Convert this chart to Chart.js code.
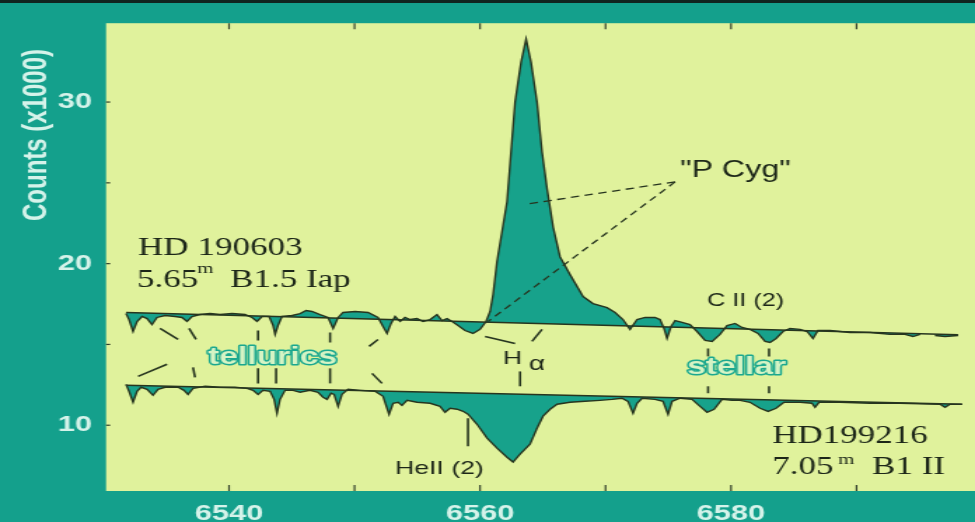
<!DOCTYPE html>
<html><head><meta charset="utf-8">
<script src="https://cdn.jsdelivr.net/npm/chart.js@4.4.1/dist/chart.umd.min.js"></script>
<style>
html,body{margin:0;padding:0;background:#14a08c;overflow:hidden;}
#c{display:block;width:975px !important;height:522px !important;}
</style></head><body>
<canvas id="c" width="696" height="522" style="width:975px;height:522px;"></canvas>
<script>
// ---- data (wavelength in Angstrom, counts in thousands) ----
const wavelength1 = [6531.79,6532.03,6532.35,6532.67,6533.07,6533.47,6533.86,6534.26,6534.90,6535.70,
 6536.25,6536.65,6537.05,6537.69,6538.49,6539.28,6540.24,6541.27,6541.83,6542.23,
 6542.63,6543.19,6543.51,6543.67,6543.90,6544.22,6545.02,6545.66,6546.14,6546.61,
 6547.25,6547.89,6548.29,6548.69,6549.08,6550.04,6551.08,6551.87,6552.27,6552.59,
 6552.91,6553.23,6553.63,6554.02,6554.42,6554.98,6555.46,6556.02,6556.57,6556.97,
 6557.37,6557.77,6558.25,6558.80,6559.44,6560.00,6560.48,6560.80,6561.04,6561.35,
 6562.15,6562.79,6563.27,6563.67,6564.06,6564.54,6564.94,6565.34,6565.82,6566.37,
 6567.17,6568.21,6569.00,6570.12,6570.76,6571.39,6571.95,6572.51,6573.15,6573.94,
 6574.34,6574.66,6574.90,6575.22,6575.54,6576.10,6576.73,6577.29,6577.93,6578.49,
 6579.12,6579.68,6580.32,6580.88,6581.51,6582.15,6582.71,6583.11,6583.59,6584.14,
 6584.70,6585.50,6586.06,6586.53,6586.93,6587.89,6589.48,6591.08,6592.67,6593.86,
 6594.50,6595.06,6595.60,6596.25,6597.05,6598.09];
const counts1 = [16.91,16.54,15.80,16.42,16.73,16.60,16.23,16.67,16.79,16.73,
 16.67,16.42,16.73,16.85,16.91,16.85,16.91,16.85,16.67,16.42,
 16.73,16.73,16.17,15.62,16.17,16.73,16.79,16.91,17.10,17.04,
 16.85,16.67,15.99,16.67,16.98,17.04,16.98,16.67,16.11,15.68,
 16.30,16.73,16.42,16.67,16.54,16.60,16.42,16.54,16.85,16.48,
 16.60,16.42,16.17,15.86,15.68,15.93,16.42,17.04,18.09,20.12,
 23.83,30.00,32.47,33.89,32.47,30.00,26.91,24.63,22.28,20.43,
 19.32,17.96,17.53,17.28,16.98,16.54,15.93,16.54,16.67,16.67,
 16.54,15.99,15.37,16.11,16.48,16.36,16.23,15.80,15.25,15.19,
 15.62,16.17,16.30,16.05,15.93,15.68,15.19,15.12,15.37,15.80,
 15.99,15.93,15.80,15.37,15.86,15.86,15.74,15.74,15.62,15.62,
 15.49,15.62,null,15.55,15.49,15.55];
const continuumWl1 = [6531.79, 6598.09];
const continuum1 = [16.98, 15.60];

const wavelength2 = [6531.79,6532.03,6532.35,6532.67,6532.99,6533.47,6533.94,6534.34,6534.90,6535.94,
 6536.41,6536.73,6537.13,6538.09,6539.28,6540.48,6541.43,6541.91,6542.31,6542.71,
 6543.27,6543.59,6543.82,6544.06,6544.46,6545.10,6545.66,6546.45,6547.09,6547.49,
 6547.81,6548.13,6548.37,6548.69,6549.00,6549.48,6550.44,6551.63,6552.27,6552.75,
 6553.07,6553.47,6553.78,6554.18,6554.98,6556.02,6556.81,6557.21,6557.61,6558.17,
 6558.65,6559.04,6559.76,6560.56,6561.35,6562.15,6562.63,6563.19,6563.98,6564.54,
 6565.02,6565.58,6566.14,6567.17,6568.37,6569.56,6570.52,6571.31,6571.79,6572.19,
 6572.51,6572.91,6573.94,6574.58,6574.98,6575.30,6575.94,6576.89,6577.53,6578.09,
 6578.65,6579.28,6580.08,6580.72,6581.51,6582.31,6582.95,6583.59,6584.22,6585.50,
 6586.45,6586.69,6587.01,6588.69,6591.08,6593.47,6596.65,6597.05,6597.45,6598.41];
const counts2 = [12.53,12.10,11.42,12.10,12.35,12.22,11.85,12.22,12.35,12.35,
 12.16,11.91,12.28,12.41,12.35,12.35,12.28,12.16,11.91,12.16,
 12.10,11.60,10.74,11.60,12.16,12.16,12.04,12.16,12.04,11.73,
 11.60,11.98,11.91,11.17,11.91,12.22,12.16,12.10,11.79,10.68,
 11.36,11.42,11.23,11.54,11.42,11.36,11.17,10.80,11.05,10.99,
 10.86,10.68,10.06,9.20,8.58,8.02,7.72,8.21,8.83,9.81,
 10.56,10.99,11.30,11.42,11.48,11.54,11.60,11.67,11.48,10.74,
 11.36,11.67,11.60,11.48,10.68,11.48,11.67,11.60,11.17,10.80,
 10.99,11.60,11.54,11.54,11.42,11.05,10.86,11.05,11.42,11.42,
 11.36,11.11,11.42,11.42,11.36,11.36,11.30,11.11,11.30,11.30];
const continuumWl2 = [6531.79, 6598.41];
const continuum2 = [12.47, 11.30];

const xTicks = [6540, 6550, 6560, 6570, 6580, 6590];
const xTickLabels = ['6540', '', '6560', '', '6580', ''];
const yTicks = [10, 15, 20, 25, 30];
const yTickLabels = ['10', '', '20', '', '30'];

// ---- annotations (data coordinates) ----
const SERIF = '"Liberation Serif", "Times New Roman", serif';
const SANS = '"Liberation Sans", Arial, sans-serif';
const noteTexts = [
  {t: 'HD 190603', x: 6532.75, y: 20.56, font: '25px ' + SERIF},
  {t: '5.65', x: 6532.67, y: 18.58, font: '25px ' + SERIF},
  {t: 'm', x: 6537.45, y: 19.44, font: '15px ' + SERIF},
  {t: 'B1.5 Iap', x: 6540.08, y: 18.58, font: '25px ' + SERIF},
  {t: 'HD199216', x: 6583.27, y: 8.89, font: '25px ' + SERIF},
  {t: '7.05', x: 6583.27, y: 6.98, font: '25px ' + SERIF},
  {t: 'm', x: 6588.53, y: 7.59, font: '15px ' + SERIF},
  {t: 'B1 II', x: 6591.24, y: 6.98, font: '25px ' + SERIF},
  {t: 'HeII (2)', x: 6553.23, y: 6.98, font: '19px ' + SANS},
  {t: 'C II (2)', x: 6578.09, y: 17.35, font: '18px ' + SANS},
  {t: 'H', x: 6561.83, y: 13.77, font: '19px ' + SANS},
  {t: '\u03b1', x: 6563.90, y: 13.40, font: '20px ' + SANS},
  {t: '"P Cyg"', x: 6575.94, y: 25.37, font: '23px ' + SANS},
  {t: 'tellurics', x: 6538.33, y: 13.77, font: 'bold 24px ' + SANS, outline: true},
  {t: 'stellar', x: 6576.49, y: 13.15, font: 'bold 24px ' + SANS, outline: true}
];
const noteSegments = [
  [6534.50, 15.99, 6535.94, 15.31], [6536.81, 15.99, 6537.37, 15.31],
  [6532.75, 13.02, 6535.06, 13.77], [6537.13, 13.58, 6537.29, 12.96],
  [6542.31, 15.86, 6542.31, 15.25], [6542.31, 13.52, 6542.31, 12.59],
  [6543.75, 13.52, 6543.75, 12.59],
  [6548.05, 15.74, 6548.05, 15.12], [6548.05, 13.52, 6548.05, 12.59],
  [6551.16, 14.88, 6551.87, 15.31], [6551.39, 13.21, 6552.19, 12.59],
  [6560.40, 15.49, 6562.79, 15.06], [6564.14, 15.19, 6564.94, 15.93],
  [6563.19, 13.33, 6563.19, 12.41],
  [6559.04, 10.43, 6559.04, 8.70],
  [6578.17, 14.75, 6578.17, 14.26], [6578.17, 12.41, 6578.17, 11.98],
  [6583.03, 14.75, 6583.03, 14.26], [6583.03, 12.41, 6583.03, 11.98]
];
const noteDashed = [
  [6575.54, 25.06, 6563.82, 23.70],
  [6575.54, 25.06, 6560.64, 16.42]
];

const pts = (wl, v) => wl.map((w, i) => ({x: w, y: v[i]}));
const LINE = '#27351f';
const FILL = '#17a28b';

const framePlugin = {
  id: 'frame',
  beforeDraw(chart) {
    const {ctx, chartArea: a, width, height} = chart;
    ctx.save();
    ctx.fillStyle = '#14a08c';
    ctx.fillRect(0, 0, width, height);
    ctx.fillStyle = '#10251f';
    ctx.fillRect(0, 0, width, 3);
    ctx.fillStyle = '#e0f29c';
    ctx.fillRect(a.left, a.top, a.right - a.left, a.bottom - a.top);
    // y axis title
    ctx.translate(26.5, 135);
    ctx.rotate(-Math.PI / 2);
    ctx.fillStyle = '#d5f3ea';
    ctx.font = 'bold 24px ' + SANS;
    ctx.textAlign = 'center';
    ctx.textBaseline = 'middle';
    ctx.fillText('Counts (x1000)', 0, 0);
    ctx.restore();
  },
  afterDatasetsDraw(chart) {
    const {ctx, chartArea: a, scales: {x, y}} = chart;
    ctx.save();
    // inward tick marks
    ctx.strokeStyle = '#33402c';
    ctx.lineWidth = 1.2;
    x.ticks.forEach(t => {
      const px = x.getPixelForValue(t.value);
      ctx.beginPath();
      ctx.moveTo(px, a.bottom); ctx.lineTo(px, a.bottom - 6);
      ctx.moveTo(px, a.top); ctx.lineTo(px, a.top + 6);
      ctx.stroke();
    });
    y.ticks.forEach(t => {
      const py = y.getPixelForValue(t.value);
      ctx.beginPath();
      ctx.moveTo(a.left, py); ctx.lineTo(a.left + 3, py);
      ctx.stroke();
    });
    // annotation segments
    ctx.strokeStyle = LINE;
    ctx.lineWidth = 1.6;
    noteSegments.forEach(s => {
      ctx.beginPath();
      ctx.moveTo(x.getPixelForValue(s[0]), y.getPixelForValue(s[1]));
      ctx.lineTo(x.getPixelForValue(s[2]), y.getPixelForValue(s[3]));
      ctx.stroke();
    });
    ctx.setLineDash([6, 4]);
    ctx.lineWidth = 1.3;
    noteDashed.forEach(s => {
      ctx.beginPath();
      ctx.moveTo(x.getPixelForValue(s[0]), y.getPixelForValue(s[1]));
      ctx.lineTo(x.getPixelForValue(s[2]), y.getPixelForValue(s[3]));
      ctx.stroke();
    });
    ctx.setLineDash([]);
    // texts
    ctx.textAlign = 'left';
    ctx.textBaseline = 'alphabetic';
    noteTexts.forEach(n => {
      const px = x.getPixelForValue(n.x), py = y.getPixelForValue(n.y);
      ctx.font = n.font;
      if (n.outline) {
        ctx.lineJoin = 'round';
        ctx.strokeStyle = '#1ba88f';
        ctx.lineWidth = 3;
        ctx.strokeText(n.t, px, py);
        ctx.fillStyle = '#d6f4c4';
        ctx.fillText(n.t, px, py);
      } else {
        ctx.fillStyle = '#1c2618';
        ctx.fillText(n.t, px, py);
      }
    });
    ctx.restore();
  }
};

Chart.defaults.font.family = SANS;
new Chart(document.getElementById('c'), {
  type: 'line',
  data: {
    datasets: [
      {label: 'continuum HD 190603', data: pts(continuumWl1, continuum1), borderColor: LINE, borderWidth: 1.4, pointRadius: 0, fill: false},
      {label: 'HD 190603', data: pts(wavelength1, counts1), borderColor: LINE, borderWidth: 1.4, pointRadius: 0, fill: '-1', backgroundColor: FILL, spanGaps: false},
      {label: 'continuum HD199216', data: pts(continuumWl2, continuum2), borderColor: LINE, borderWidth: 1.4, pointRadius: 0, fill: false},
      {label: 'HD199216', data: pts(wavelength2, counts2), borderColor: LINE, borderWidth: 1.4, pointRadius: 0, fill: '-1', backgroundColor: FILL}
    ]
  },
  options: {
    responsive: false,
    animation: false,
    devicePixelRatio: 1,
    layout: {padding: {top: 22, right: 0, left: 0, bottom: 0}},
    plugins: {legend: {display: false}, tooltip: {enabled: false}},
    elements: {line: {tension: 0}},
    scales: {
      x: {
        type: 'linear', position: 'bottom', min: 6530.2, max: 6599.44,
        afterBuildTicks: s => { s.ticks = xTicks.map(v => ({value: v})); },
        afterFit: s => { s.height = 31; },
        grid: {display: false, drawTicks: false},
        border: {display: false},
        ticks: {
          autoSkip: false, maxRotation: 0, padding: 10, color: '#d5f3ea',
          font: {size: 22, weight: 'bold'},
          callback: v => xTickLabels[xTicks.indexOf(v)]
        }
      },
      y: {
        type: 'linear', position: 'left', min: 5.93, max: 34.88,
        afterBuildTicks: s => { s.ticks = yTicks.map(v => ({value: v})); },
        afterFit: s => { s.width = 75.7; },
        grid: {display: false, drawTicks: false},
        border: {display: false},
        ticks: {
          padding: 10, color: '#d5f3ea',
          font: {size: 22, weight: 'bold'},
          callback: v => yTickLabels[yTicks.indexOf(v)]
        }
      }
    }
  },
  plugins: [framePlugin]
});
</script>
</body></html>
